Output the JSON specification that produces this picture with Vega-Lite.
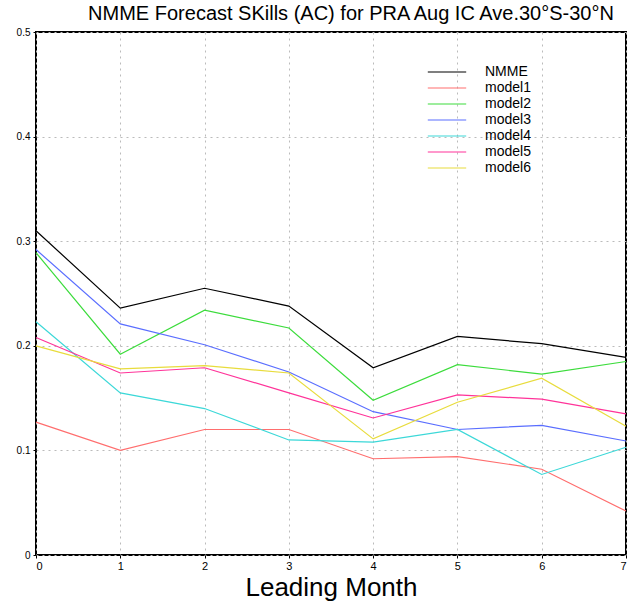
{
  "$schema": "https://vega.github.io/schema/vega-lite/v6.json",
  "width": 590,
  "height": 523,
  "autosize": "none",
  "padding": {"left": 36, "top": 32, "right": 7, "bottom": 48},
  "background": "white",
  "title": {
    "text": "NMME Forecast SKills (AC) for PRA  Aug IC Ave.30°S-30°N",
    "font": "Liberation Sans",
    "fontSize": 20,
    "fontWeight": "normal",
    "color": "#000",
    "anchor": "middle",
    "dx": 20,
    "offset": 3
  },
  "config": {
    "view": {"stroke": "#000", "strokeWidth": 2},
    "axis": {
      "labelFont": "Liberation Sans",
      "labelColor": "#000",
      "grid": true,
      "gridColor": "#bbb",
      "gridDash": [2, 4],
      "gridWidth": 1,
      "domain": false,
      "tickColor": "#000",
      "tickSize": 3
    }
  },
  "data": {
    "values": [
      {"m": 0, "v": 0.310, "s": "NMME"}, {"m": 1, "v": 0.236, "s": "NMME"}, {"m": 2, "v": 0.255, "s": "NMME"}, {"m": 3, "v": 0.238, "s": "NMME"},
      {"m": 4, "v": 0.179, "s": "NMME"}, {"m": 5, "v": 0.209, "s": "NMME"}, {"m": 6, "v": 0.202, "s": "NMME"}, {"m": 7, "v": 0.189, "s": "NMME"},
      {"m": 0, "v": 0.127, "s": "model1"}, {"m": 1, "v": 0.100, "s": "model1"}, {"m": 2, "v": 0.120, "s": "model1"}, {"m": 3, "v": 0.120, "s": "model1"},
      {"m": 4, "v": 0.092, "s": "model1"}, {"m": 5, "v": 0.094, "s": "model1"}, {"m": 6, "v": 0.082, "s": "model1"}, {"m": 7, "v": 0.042, "s": "model1"},
      {"m": 0, "v": 0.289, "s": "model2"}, {"m": 1, "v": 0.192, "s": "model2"}, {"m": 2, "v": 0.234, "s": "model2"}, {"m": 3, "v": 0.217, "s": "model2"},
      {"m": 4, "v": 0.148, "s": "model2"}, {"m": 5, "v": 0.182, "s": "model2"}, {"m": 6, "v": 0.173, "s": "model2"}, {"m": 7, "v": 0.185, "s": "model2"},
      {"m": 0, "v": 0.292, "s": "model3"}, {"m": 1, "v": 0.221, "s": "model3"}, {"m": 2, "v": 0.201, "s": "model3"}, {"m": 3, "v": 0.175, "s": "model3"},
      {"m": 4, "v": 0.137, "s": "model3"}, {"m": 5, "v": 0.120, "s": "model3"}, {"m": 6, "v": 0.124, "s": "model3"}, {"m": 7, "v": 0.109, "s": "model3"},
      {"m": 0, "v": 0.223, "s": "model4"}, {"m": 1, "v": 0.155, "s": "model4"}, {"m": 2, "v": 0.140, "s": "model4"}, {"m": 3, "v": 0.110, "s": "model4"},
      {"m": 4, "v": 0.108, "s": "model4"}, {"m": 5, "v": 0.120, "s": "model4"}, {"m": 6, "v": 0.077, "s": "model4"}, {"m": 7, "v": 0.103, "s": "model4"},
      {"m": 0, "v": 0.208, "s": "model5"}, {"m": 1, "v": 0.174, "s": "model5"}, {"m": 2, "v": 0.179, "s": "model5"}, {"m": 3, "v": 0.155, "s": "model5"},
      {"m": 4, "v": 0.131, "s": "model5"}, {"m": 5, "v": 0.153, "s": "model5"}, {"m": 6, "v": 0.149, "s": "model5"}, {"m": 7, "v": 0.135, "s": "model5"},
      {"m": 0, "v": 0.200, "s": "model6"}, {"m": 1, "v": 0.178, "s": "model6"}, {"m": 2, "v": 0.181, "s": "model6"}, {"m": 3, "v": 0.174, "s": "model6"},
      {"m": 4, "v": 0.111, "s": "model6"}, {"m": 5, "v": 0.146, "s": "model6"}, {"m": 6, "v": 0.169, "s": "model6"}, {"m": 7, "v": 0.123, "s": "model6"}
    ]
  },
  "mark": {"type": "line", "strokeWidth": 1.2},
  "encoding": {
    "x": {
      "field": "m", "type": "quantitative",
      "scale": {"domain": [0, 7], "nice": false},
      "axis": {"values": [0,1,2,3,4,5,6,7], "title": "Leading Month", "titleFont": "Liberation Sans", "titleFontSize": 26, "titleFontWeight": "normal", "titleColor": "#000", "titlePadding": 3, "labelFontSize": 11, "labelPadding": 2}
    },
    "y": {
      "field": "v", "type": "quantitative",
      "scale": {"domain": [0, 0.5], "nice": false},
      "axis": {"values": [0, 0.1, 0.2, 0.3, 0.4, 0.5], "format": ".1~f", "title": null, "labelFontSize": 10, "labelPadding": 3}
    },
    "color": {
      "field": "s", "type": "nominal",
      "scale": {
        "domain": ["NMME", "model1", "model2", "model3", "model4", "model5", "model6"],
        "range": ["#000000", "#ff6e6e", "#3cdc3c", "#5a6eff", "#3cd8d8", "#ff3399", "#e8dc3c"]
      },
      "legend": {
        "orient": "none", "legendX": 402, "legendY": 31,
        "title": null,
        "symbolType": "M-2.4,0H2.4", "symbolSize": 256, "symbolStrokeWidth": 1.2,
        "labelFont": "Liberation Sans", "labelFontSize": 14, "labelColor": "#000",
        "labelOffset": 29, "rowPadding": 0
      }
    },
    "strokeWidth": {
      "condition": {"test": "datum.s == 'NMME'", "value": 2},
      "value": 1.1
    }
  }
}
